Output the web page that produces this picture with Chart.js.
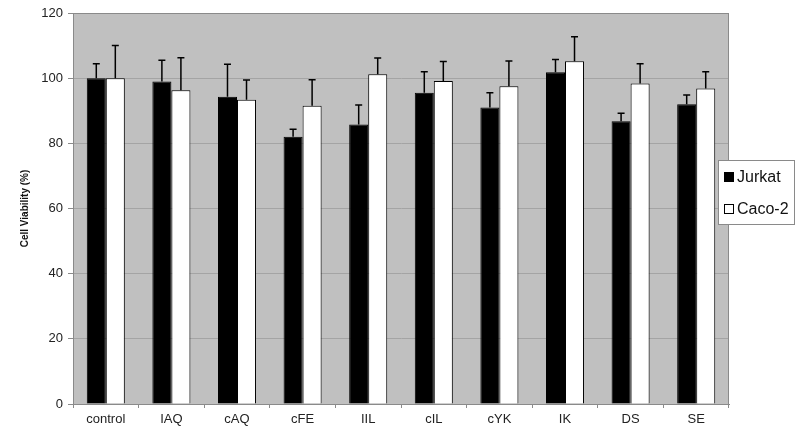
<!DOCTYPE html>
<html>
<head>
<meta charset="utf-8">
<script src="https://cdn.jsdelivr.net/npm/chart.js"></script>
<style>
  html, body { margin: 0; padding: 0; background: #fff; }
  #wrap { width: 800px; height: 431px; }
</style>
</head>
<body>
<div id="wrap"><canvas id="myChart" width="800" height="431"></canvas></div>
<script>
// dados
const categorias = ['control', 'IAQ', 'cAQ', 'cFE', 'IIL', 'cIL', 'cYK', 'IK', 'DS', 'SE'];
const jurkat = [100, 99, 94.3, 82, 85.8, 95.5, 91, 101.8, 86.8, 92];
const jurkatErro = [4.4, 6.5, 10, 2.3, 6, 6.5, 4.5, 3.9, 2.4, 2.8];
const caco2 = [100, 96.3, 93.4, 91.5, 101.2, 99.1, 97.5, 105.2, 98.4, 96.8];
const caco2Erro = [10, 10, 6, 8, 5, 6, 7.8, 7.5, 6, 5.2];
const yTicks = [0, 20, 40, 60, 80, 100, 120];

const fonte = '"Liberation Sans", Arial, sans-serif';

// fundo cinza da área do gráfico
const fundoPlugin = {
    id: 'fundo',
    beforeDraw(chart) {
        const a = chart.chartArea;
        const c = chart.ctx;
        c.save();
        c.fillStyle = '#c0c0c0';
        c.fillRect(a.left, a.top, a.right - a.left, a.bottom - a.top);
        c.restore();
    },
    afterDraw(chart) {
        const a = chart.chartArea;
        const c = chart.ctx;
        c.save();
        c.strokeStyle = '#8a8a8a';
        c.lineWidth = 1;
        c.strokeRect(a.left + 0.5, a.top + 0.5, a.right - a.left - 1, a.bottom - a.top);
        c.restore();
    }
};

// barras de erro (só a parte de cima)
const erroPlugin = {
    id: 'erros',
    afterDatasetsDraw(chart) {
        const c = chart.ctx;
        const y = chart.scales.y;
        c.save();
        c.strokeStyle = '#000';
        c.lineWidth = 1.5;
        chart.data.datasets.forEach((ds, i) => {
            const meta = chart.getDatasetMeta(i);
            meta.data.forEach((bar, j) => {
                const topo = y.getPixelForValue(ds.data[j] + ds.erros[j]);
                c.beginPath();
                c.moveTo(bar.x, bar.y);
                c.lineTo(bar.x, topo);
                c.moveTo(bar.x - 3.5, topo);
                c.lineTo(bar.x + 3.5, topo);
                c.stroke();
            });
        });
        c.restore();
    }
};

// legenda à direita, desenhada à mão
const legendaPlugin = {
    id: 'legenda',
    afterDraw(chart) {
        const c = chart.ctx;
        c.save();
        c.fillStyle = '#fff';
        c.fillRect(718, 160, 76, 64);
        c.strokeStyle = '#8a8a8a';
        c.lineWidth = 1;
        c.strokeRect(718.5, 160.5, 76, 64);
        c.font = '16px ' + fonte;
        c.textBaseline = 'middle';
        chart.data.datasets.forEach((ds, i) => {
            const yy = 177 + i * 32;
            c.fillStyle = ds.backgroundColor;
            c.fillRect(724, yy - 5, 10, 10);
            c.strokeStyle = '#000';
            c.strokeRect(724.5, yy - 4.5, 9, 9);
            c.fillStyle = '#111';
            c.fillText(ds.label, 737, yy + 1);
        });
        c.restore();
    }
};

const ctx = document.getElementById('myChart').getContext('2d');
const myChart = new Chart(ctx, {
    type: 'bar',
    data: {
        labels: categorias,
        datasets: [{
            label: 'Jurkat',
            data: jurkat,
            erros: jurkatErro,
            backgroundColor: '#000',
            borderColor: '#000',
            borderWidth: 1
        }, {
            label: 'Caco-2',
            data: caco2,
            erros: caco2Erro,
            backgroundColor: '#fff',
            borderColor: '#000',
            borderWidth: 1
        }]
    },
    options: {
        responsive: false,
        animation: false,
        datasets: {
            bar: {
                categoryPercentage: 0.58,
                barPercentage: 1.0
            }
        },
        layout: {
            padding: { top: 13, right: 71, bottom: 0, left: 0 }
        },
        plugins: {
            legend: { display: false },
            tooltip: { enabled: false }
        },
        scales: {
            x: {
                grid: {
                    offset: true,
                    drawOnChartArea: false,
                    tickLength: 4,
                    color: '#8a8a8a'
                },
                border: { color: '#8a8a8a' },
                ticks: {
                    color: '#222',
                    padding: 4,
                    font: { family: fonte, size: 13 }
                },
                afterFit(scale) { scale.height = 27; }
            },
            y: {
                min: 0,
                max: 120,
                afterBuildTicks(scale) {
                    scale.ticks = yTicks.map(v => ({ value: v }));
                },
                grid: {
                    color: '#a4a4a4',
                    tickLength: 5,
                    tickColor: '#8a8a8a'
                },
                border: { color: '#8a8a8a' },
                ticks: {
                    color: '#222',
                    padding: 5,
                    font: { family: fonte, size: 13 }
                },
                title: {
                    display: true,
                    text: 'Cell Viability (%)',
                    color: '#111',
                    padding: { top: 19, bottom: 0 },
                    font: { family: fonte, size: 10, weight: 'bold' }
                },
                afterFit(scale) { scale.width = 73; }
            }
        }
    },
    plugins: [fundoPlugin, erroPlugin, legendaPlugin]
});
</script>
</body>
</html>
